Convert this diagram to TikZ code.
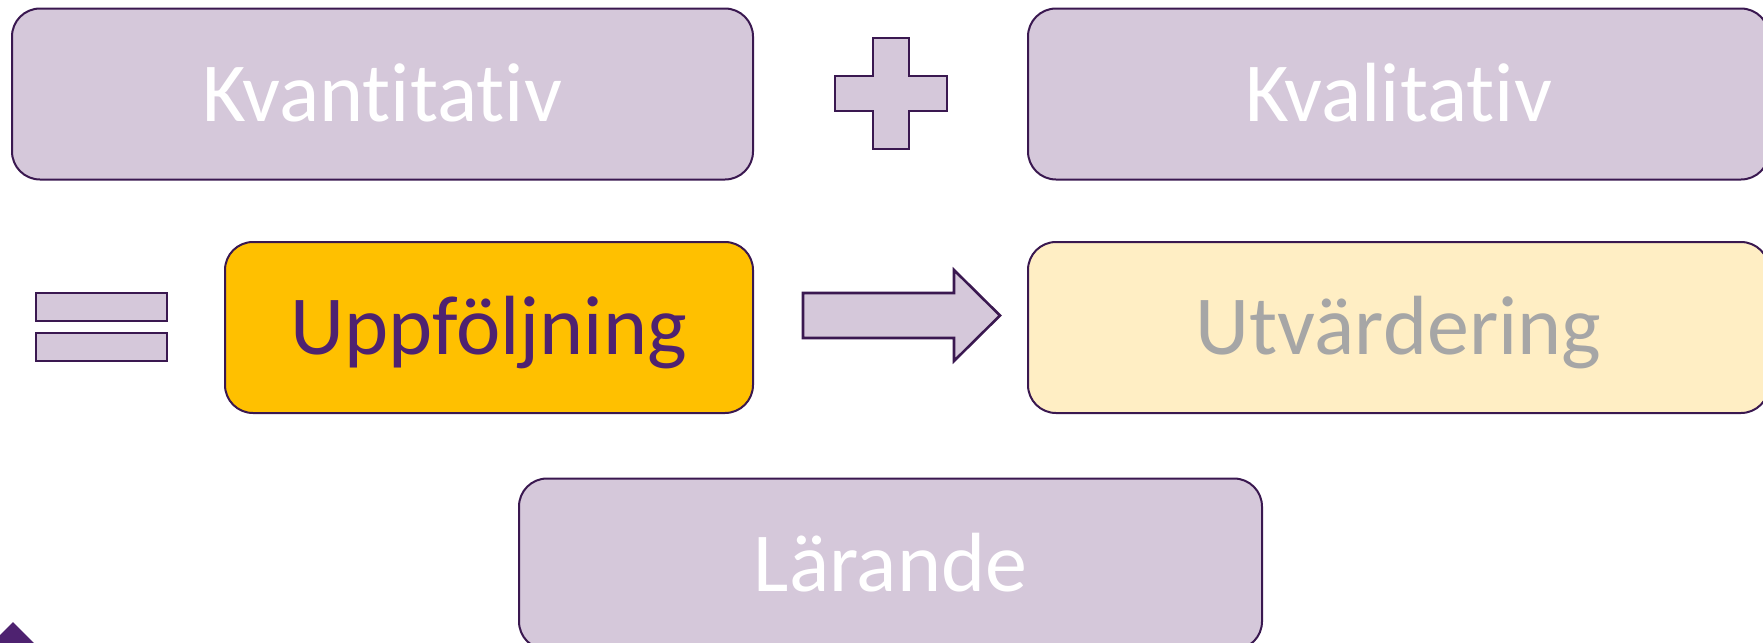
\documentclass[tikz,border=0pt]{standalone}
\usepackage{fontspec}
\setmainfont{Carlito}[Ligatures=NoCommon]
\definecolor{boxfill}{HTML}{D5C8DA}
\definecolor{edge}{HTML}{3A1850}
\definecolor{deep}{HTML}{4E2270}
\definecolor{gold}{HTML}{FFC000}
\definecolor{cream}{HTML}{FFEEC4}
\definecolor{greytext}{HTML}{A6A6A6}
\tikzset{
  bigbox/.style={draw=edge, line width=1pt, rounded corners=14pt, inner sep=0pt,
    minimum height=85.5pt, text height=27pt, text depth=0pt,
    font=\fontsize{42}{50}\selectfont},
  purplebox/.style={bigbox, fill=boxfill, text=white},
  symbolshape/.style={draw=edge, line width=1.3pt, fill=boxfill, line join=miter}
}
\begin{document}
\begin{tikzpicture}[x=0.5pt, y=-0.5pt]
\useasboundingbox (0,0) rectangle (1763,643);
\clip (0,0) rectangle (1763,643);
\node[purplebox, minimum width=370.5pt] (kvant) at (382.5,94) {Kvantitativ};
\node[purplebox, minimum width=370.5pt] (kval) at (1398.5,94) {Kvalitativ};
\node[bigbox, fill=gold, text=deep, minimum width=264pt] (uppf) at (489,327.5) {Uppföljning};
\node[bigbox, fill=cream, text=greytext, minimum width=370.5pt] (utv) at (1398.5,327.5) {Utvärdering};
\node[purplebox, minimum width=371.5pt] (lar) at (890.5,564) {Lärande};
% plus sign
\draw[symbolshape] (873,38) -- (909,38) -- (909,76) -- (947,76) -- (947,111) -- (909,111)
  -- (909,149) -- (873,149) -- (873,111) -- (835,111) -- (835,76) -- (873,76) -- cycle;
% equals sign
\draw[symbolshape] (36,293) rectangle (167,321);
\draw[symbolshape] (36,333) rectangle (167,361);
% arrow
\draw[symbolshape] (803,293) -- (954,293) -- (954,270) -- (1000,315.5) -- (954,361)
  -- (954,338) -- (803,338) -- cycle;
% corner diamond
\fill[deep] (13,622) -- (53,662) -- (13,702) -- (-27,662) -- cycle;
\end{tikzpicture}
\end{document}
